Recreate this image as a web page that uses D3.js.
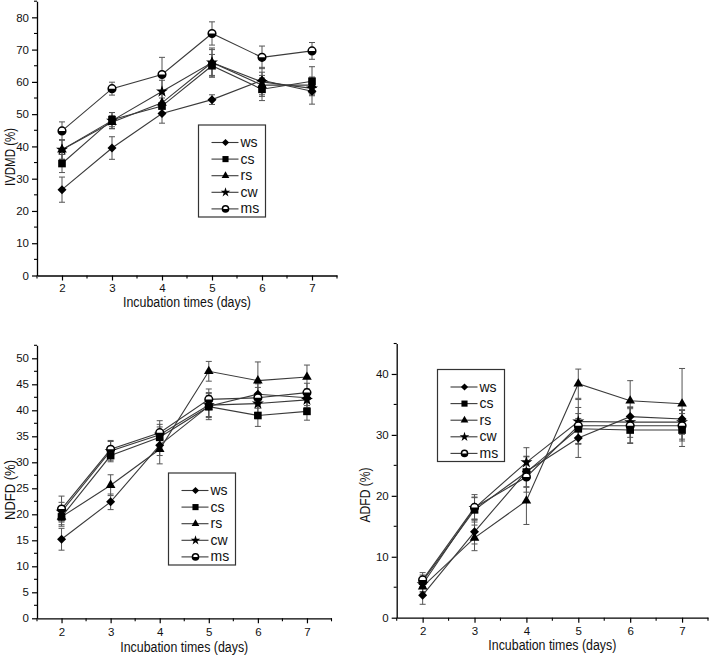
<!DOCTYPE html>
<html><head><meta charset="utf-8">
<script src="https://cdn.jsdelivr.net/npm/d3@7"></script>
<style>
html,body{margin:0;padding:0;background:#fff;}
svg{display:block;font-family:"Liberation Sans",Arial,sans-serif;}
</style></head>
<body><svg id="c" width="709" height="657"></svg>
<script>
const days = [2, 3, 4, 5, 6, 7];
const seriesNames = ["ws", "cs", "rs", "cw", "ms"];
const xTickLabels = ["2", "3", "4", "5", "6", "7"];
const xTitle = "Incubation times (days)";

// IVDMD (%)
const ivdmdWs = [26.6, 39.5, 50.2, 54.5, 60.5, 57.1];
const ivdmdCs = [34.7, 48.3, 52.5, 65.0, 57.7, 60.2];
const ivdmdRs = [39.0, 47.5, 53.5, 66.0, 59.0, 59.0];
const ivdmdCw = [39.0, 48.0, 57.0, 66.0, 60.0, 58.0];
const ivdmdMs = [44.8, 57.9, 62.3, 75.0, 67.6, 69.6];
const ivdmdWsErr = [3.9, 3.5, 3.0, 1.5, 2.5, 4.0];
const ivdmdCsErr = [2.8, 2.2, 2.5, 3.5, 3.5, 4.5];
const ivdmdRsErr = [3.0, 2.0, 3.0, 4.0, 3.0, 2.5];
const ivdmdCwErr = [3.0, 2.5, 3.5, 4.5, 4.5, 2.0];
const ivdmdMsErr = [2.8, 2.0, 5.3, 3.6, 3.5, 2.6];
const ivdmdTicks = [0, 10, 20, 30, 40, 50, 60, 70, 80];

// NDFD (%)
const ndfdWs = [15.2, 22.4, 33.3, 40.8, 43.1, 42.4];
const ndfdCs = [19.5, 31.3, 34.8, 40.7, 39.0, 39.8];
const ndfdRs = [19.5, 25.6, 32.5, 47.5, 45.7, 46.4];
const ndfdCw = [20.5, 32.2, 35.3, 41.0, 41.3, 42.0];
const ndfdMs = [21.0, 32.5, 35.7, 42.1, 42.4, 43.4];
const ndfdWsErr = [2.1, 1.5, 2.0, 2.0, 2.0, 1.5];
const ndfdCsErr = [1.5, 1.2, 2.0, 2.5, 2.1, 1.7];
const ndfdRsErr = [1.8, 2.0, 2.8, 1.9, 3.6, 2.3];
const ndfdCwErr = [1.8, 1.8, 2.0, 2.4, 2.0, 1.5];
const ndfdMsErr = [2.5, 1.7, 2.3, 2.0, 2.0, 1.8];
const ndfdTicks = [0, 5, 10, 15, 20, 25, 30, 35, 40, 45, 50];

// ADFD (%)
const adfdWs = [3.7, 14.1, 24.0, 29.5, 33.0, 32.6];
const adfdCs = [6.0, 17.7, 23.9, 31.0, 30.8, 30.8];
const adfdRs = [5.1, 13.1, 19.2, 38.4, 35.6, 35.1];
const adfdCw = [5.5, 18.0, 25.5, 32.2, 32.1, 32.1];
const adfdMs = [6.2, 18.1, 23.1, 31.5, 31.5, 31.5];
const adfdWsErr = [1.5, 2.0, 2.5, 3.2, 1.5, 1.5];
const adfdCsErr = [1.0, 2.0, 2.5, 2.5, 2.2, 2.7];
const adfdRsErr = [1.0, 2.1, 3.9, 2.4, 3.3, 5.8];
const adfdCwErr = [1.2, 1.8, 2.4, 3.6, 2.5, 2.0];
const adfdMsErr = [1.2, 2.1, 2.5, 3.0, 2.8, 2.5];
const adfdTicks = [0, 10, 20, 30, 40];

const svg = d3.select("#c");
const LINE = "#3a3a3a", ERR = "#555";

function markerPath(name, s) {
  if (name === "ws") return `M0,${-s}L${s},0L0,${s}L${-s},0Z`;
  if (name === "cs") { const h = s * 0.85; return `M${-h},${-h}H${h}V${h}H${-h}Z`; }
  if (name === "rs") return d3.symbol(d3.symbolTriangle, (s * 2.1) * (s * 2.1) * 0.45)();
  if (name === "cw") return d3.symbol(d3.symbolStar, (s * 2) * (s * 2) * 0.55)();
  return null;
}
function drawMarker(g, name, x, y, s) {
  if (name === "ms") {
    const r = s * 0.85;
    g.append("circle").attr("cx", x).attr("cy", y).attr("r", r)
      .attr("fill", "#fff").attr("stroke", "#000").attr("stroke-width", 1.5);
    g.append("path").attr("transform", `translate(${x},${y})`)
      .attr("d", `M${-r},0A${r},${r} 0 0 0 ${r},0Z`).attr("fill", "#000");
  } else {
    g.append("path").attr("transform", `translate(${x},${y})`)
      .attr("d", markerPath(name, s)).attr("fill", "#000");
  }
}

function panel(cfg) {
  const g = svg.append("g");
  const x = d3.scaleLinear().domain([1.5, 7.5]).range([cfg.x0, cfg.x1]);
  const y = d3.scaleLinear().domain([0, cfg.ymax]).range([cfg.y0, cfg.y1]);

  const ax = g.append("g").attr("transform", `translate(0,${cfg.y0})`)
    .call(d3.axisBottom(x).tickValues(days).tickFormat((d, i) => xTickLabels[i]).tickSize(5).tickSizeOuter(0));
  const ay = g.append("g").attr("transform", `translate(${cfg.x0},0)`)
    .call(d3.axisLeft(y).tickValues(cfg.ticks).tickFormat(d3.format("d")).tickSize(5).tickSizeOuter(0));
  [ax, ay].forEach(a => {
    a.select(".domain").attr("stroke", "#000").attr("stroke-width", 1.3);
    a.selectAll(".tick line").attr("stroke", "#000").attr("stroke-width", 1.2);
    a.selectAll("text").attr("font-size", 11.5).attr("font-family", "Liberation Sans, Arial, sans-serif").attr("fill", "#111");
  });
  ax.selectAll("text").attr("dy", null).attr("y", cfg.xtickY);
  ay.selectAll("text").attr("x", -8);
  const xMinor = [1.5, 2.5, 3.5, 4.5, 5.5, 6.5, 7.5];
  g.append("g").selectAll("line").data(xMinor).join("line")
    .attr("x1", d => x(d)).attr("x2", d => x(d)).attr("y1", cfg.y0).attr("y2", cfg.y0 + 3)
    .attr("stroke", "#000").attr("stroke-width", 1.1);
  g.append("g").selectAll("line").data(cfg.minor).join("line")
    .attr("x1", cfg.x0 - 3).attr("x2", cfg.x0).attr("y1", d => y(d)).attr("y2", d => y(d))
    .attr("stroke", "#000").attr("stroke-width", 1.1);

  g.append("text").attr("x", (cfg.x0 + cfg.x1) / 2).attr("y", cfg.y0 + cfg.xtOff)
    .attr("text-anchor", "middle").attr("font-size", 14).attr("fill", "#111")
    .attr("textLength", 128).attr("lengthAdjust", "spacingAndGlyphs").text(xTitle);
  g.append("text").attr("transform", `translate(${cfg.ytX},${cfg.ytY}) rotate(-90)`)
    .attr("text-anchor", "middle").attr("font-size", 14).attr("fill", "#111")
    .attr("textLength", cfg.ytLen).attr("lengthAdjust", "spacingAndGlyphs").text(cfg.yTitle);

  const eg = g.append("g");
  cfg.series.forEach(s => {
    s.vals.forEach((v, i) => {
      const e = s.err[i], cx = x(days[i]);
      eg.append("line").attr("x1", cx).attr("x2", cx).attr("y1", y(v - e)).attr("y2", y(v + e))
        .attr("stroke", ERR).attr("stroke-width", 1);
      [v - e, v + e].forEach(w => eg.append("line").attr("x1", cx - 3).attr("x2", cx + 3)
        .attr("y1", y(w)).attr("y2", y(w)).attr("stroke", ERR).attr("stroke-width", 1));
    });
  });
  const line = d3.line().x((d, i) => x(days[i])).y(d => y(d));
  cfg.series.forEach(s => {
    g.append("path").attr("d", line(s.vals)).attr("fill", "none").attr("stroke", LINE).attr("stroke-width", 1.1);
  });
  const mg = g.append("g");
  cfg.series.forEach((s, si) => {
    s.vals.forEach((v, i) => drawMarker(mg, seriesNames[si], x(days[i]), y(v), 4.5));
  });

  const L = cfg.legend;
  const lg = g.append("g");
  lg.append("rect").attr("x", L.x).attr("y", L.y).attr("width", 67).attr("height", 92)
    .attr("fill", "#fff").attr("stroke", "#333").attr("stroke-width", 1.2);
  seriesNames.forEach((n, i) => {
    const yy = L.y + 17.5 + i * 16.6;
    lg.append("line").attr("x1", L.x + 13).attr("x2", L.x + 40).attr("y1", yy).attr("y2", yy)
      .attr("stroke", LINE).attr("stroke-width", 1.1);
    drawMarker(lg, n, L.x + 27, yy, 3.6);
    lg.append("text").attr("x", L.x + 42).attr("y", yy + 4.5).attr("font-size", 14).attr("fill", "#111").text(n);
  });
}

panel({
  x0: 37, x1: 337, y0: 275.5, y1: 1.2, ymax: 85, ticks: ivdmdTicks,
  minor: [5, 15, 25, 35, 45, 55, 65, 75, 85],
  yTitle: "IVDMD (%)", ytX: 14.5, ytY: 157, ytLen: 58, xtOff: 31.5, xtickY: 16.5,
  legend: {x: 198.5, y: 125},
  series: [
    {vals: ivdmdWs, err: ivdmdWsErr}, {vals: ivdmdCs, err: ivdmdCsErr},
    {vals: ivdmdRs, err: ivdmdRsErr}, {vals: ivdmdCw, err: ivdmdCwErr},
    {vals: ivdmdMs, err: ivdmdMsErr}]
});
panel({
  x0: 37, x1: 331.5, y0: 618.3, y1: 345.3, ymax: 52.5, ticks: ndfdTicks,
  minor: [2.5, 7.5, 12.5, 17.5, 22.5, 27.5, 32.5, 37.5, 42.5, 47.5, 52.5],
  yTitle: "NDFD (%)", ytX: 14.5, ytY: 490, ytLen: 60, xtOff: 34, xtickY: 17.5,
  legend: {x: 168.5, y: 473},
  series: [
    {vals: ndfdWs, err: ndfdWsErr}, {vals: ndfdCs, err: ndfdCsErr},
    {vals: ndfdRs, err: ndfdRsErr}, {vals: ndfdCw, err: ndfdCwErr},
    {vals: ndfdMs, err: ndfdMsErr}]
});
panel({
  x0: 396.7, x1: 708, y0: 617.7, y1: 343.5, ymax: 45, ticks: adfdTicks,
  minor: [5, 15, 25, 35, 45],
  yTitle: "ADFD (%)", ytX: 370, ytY: 495, ytLen: 55, xtOff: 32.5, xtickY: 17.5,
  legend: {x: 437.5, y: 369.5},
  series: [
    {vals: adfdWs, err: adfdWsErr}, {vals: adfdCs, err: adfdCsErr},
    {vals: adfdRs, err: adfdRsErr}, {vals: adfdCw, err: adfdCwErr},
    {vals: adfdMs, err: adfdMsErr}]
});
</script>
</body></html>
